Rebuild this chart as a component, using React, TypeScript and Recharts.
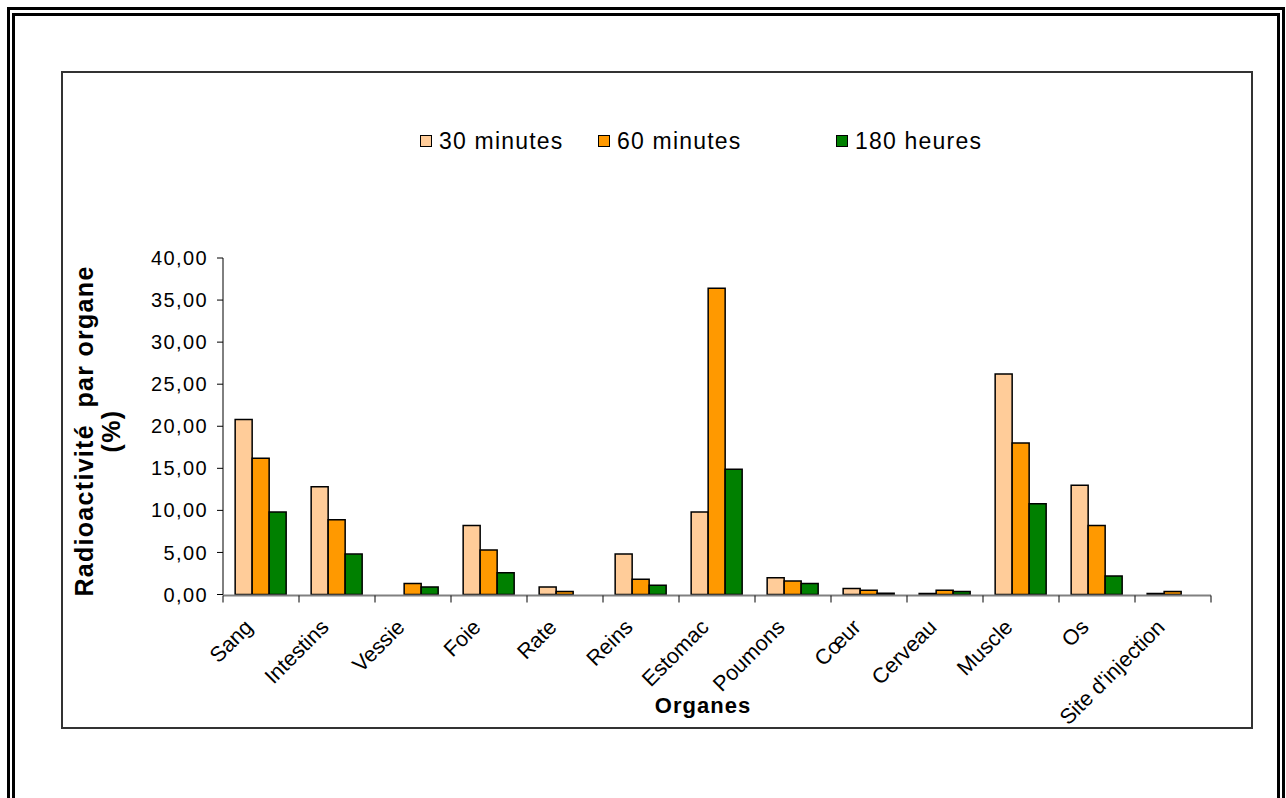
import React from "react";
import { BarChart, Bar, XAxis, YAxis } from "recharts";

// Organs on the horizontal axis
const organes = [
  "Sang",
  "Intestins",
  "Vessie",
  "Foie",
  "Rate",
  "Reins",
  "Estomac",
  "Poumons",
  "Cœur",
  "Cerveau",
  "Muscle",
  "Os",
  "Site d'injection",
];

// Radioactivity per organ (%) for each time point
const min30 = [20.8, 12.8, 0, 8.2, 0.9, 4.8, 9.8, 2.0, 0.7, 0.12, 26.2, 13.0, 0.12];
const min60 = [16.2, 8.9, 1.3, 5.3, 0.35, 1.8, 36.4, 1.6, 0.5, 0.5, 18.0, 8.2, 0.35];
const h180 = [9.8, 4.8, 0.9, 2.6, 0, 1.1, 14.9, 1.3, 0.15, 0.35, 10.8, 2.2, 0];

const seriesNames = ["30 minutes", "60 minutes", "180 heures"];
const seriesKeys = ["m30", "m60", "h180"];
const yTicks = [0, 5, 10, 15, 20, 25, 30, 35, 40];

const colors: Record<string, string> = {
  m30: "#FFCC99",
  m60: "#FF9900",
  h180: "#008000",
};

const data = organes.map((name, i) => ({
  name,
  idx: i + 0.5,
  m30: min30[i],
  m60: min60[i],
  h180: h180[i],
}));

// category boundaries for the outward tick marks
const edges = [...organes.map((_, i) => i), organes.length];

const FONT = "'Liberation Sans', Arial, sans-serif";

const W = 1286;
const H = 798;

const CategoryTick = (props: any) => {
  const { x, y, payload } = props;
  const ax = x - 7;
  const ay = y + 32;
  return (
    <text
      x={ax}
      y={ay}
      textAnchor="end"
      transform={`rotate(-45 ${ax} ${ay})`}
      fontFamily={FONT}
      fontSize={21.5}
      fill="#000"
    >
      {payload.value}
    </text>
  );
};

const NoLabel = () => <g />;

const YTitle = () => (
  <g fontFamily={FONT} fontWeight="bold" fontSize={25} fill="#000" letterSpacing={1.3}>
    <text
      x={93}
      y={431}
      textAnchor="middle"
      transform="rotate(-90 93 431)"
      xmlSpace="preserve"
    >
      {"Radioactivité  par organe"}
    </text>
    <text x={120} y={431} textAnchor="middle" transform="rotate(-90 120 431)">
      (%)
    </text>
  </g>
);

const XTitle = () => (
  <text
    x={703}
    y={713}
    textAnchor="middle"
    fontFamily={FONT}
    fontWeight="bold"
    fontSize={22}
    fill="#000"
    letterSpacing={1}
  >
    Organes
  </text>
);

const legendLefts = [420, 598, 836];

export default function App() {
  return (
    <div
      style={{
        position: "fixed",
        left: 0,
        top: 0,
        width: W,
        height: H,
        background: "#fff",
        overflow: "hidden",
        fontFamily: FONT,
      }}
    >
      {/* double page frame */}
      <div
        style={{
          position: "absolute",
          left: 7,
          top: 7,
          width: 1285 - 7,
          height: 900,
          border: "3px solid #000",
          boxSizing: "border-box",
        }}
      />
      <div
        style={{
          position: "absolute",
          left: 12,
          top: 13,
          width: 1280 - 12,
          height: 900,
          border: "3px solid #000",
          boxSizing: "border-box",
        }}
      />
      {/* chart area frame */}
      <div
        style={{
          position: "absolute",
          left: 61,
          top: 71,
          width: 1253 - 61,
          height: 729 - 71,
          border: "2px solid #333",
          boxSizing: "border-box",
        }}
      />

      {/* legend */}
      {seriesKeys.map((k, i) => (
        <div
          key={k}
          style={{
            position: "absolute",
            left: legendLefts[i],
            top: 127,
            height: 28,
            display: "flex",
            alignItems: "center",
            fontSize: 23,
            color: "#000",
            whiteSpace: "nowrap",
            letterSpacing: 1.2,
          }}
        >
          <span
            style={{
              display: "inline-block",
              width: 12,
              height: 12,
              background: colors[k],
              border: "1.5px solid #000",
              boxSizing: "border-box",
              marginRight: 7,
            }}
          />
          {seriesNames[i]}
        </div>
      ))}

      <div style={{ position: "absolute", left: 0, top: 0 }}>
        <BarChart
          width={W}
          height={H}
          data={data}
          margin={{ top: 258, right: 75, bottom: 201.5, left: 163 }}
          barCategoryGap="16%"
          barGap={0}
        >
          <XAxis
            dataKey="name"
            height={1}
            interval={0}
            axisLine={false}
            tickLine={false}
            tickSize={0}
            tick={<CategoryTick />}
            label={{ content: () => <XTitle /> }}
          />
          <XAxis
            xAxisId="edge"
            dataKey="idx"
            type="number"
            domain={[0, organes.length]}
            ticks={edges}
            interval={0}
            tick={<NoLabel />}
            height={1}
            tickSize={7}
            axisLine={{ stroke: "#808080", strokeWidth: 2 }}
            tickLine={{ stroke: "#000", strokeWidth: 1 }}
          />
          <YAxis
            width={60}
            domain={[0, 40]}
            ticks={yTicks}
            interval={0}
            tickSize={6}
            tickMargin={9}
            axisLine={{ stroke: "#000", strokeWidth: 1 }}
            tickLine={{ stroke: "#000", strokeWidth: 1 }}
            tick={{ fill: "#000", fontSize: 20, fontFamily: FONT, letterSpacing: 1.4 }}
            tickFormatter={(v: number) => v.toFixed(2).replace(".", ",")}
            label={{ content: () => <YTitle /> }}
          />
          {seriesKeys.map((k, i) => (
            <Bar
              key={k}
              dataKey={k}
              name={seriesNames[i]}
              fill={colors[k]}
              stroke="#000"
              strokeWidth={1.5}
              isAnimationActive={false}
            />
          ))}
        </BarChart>
      </div>
    </div>
  );
}
